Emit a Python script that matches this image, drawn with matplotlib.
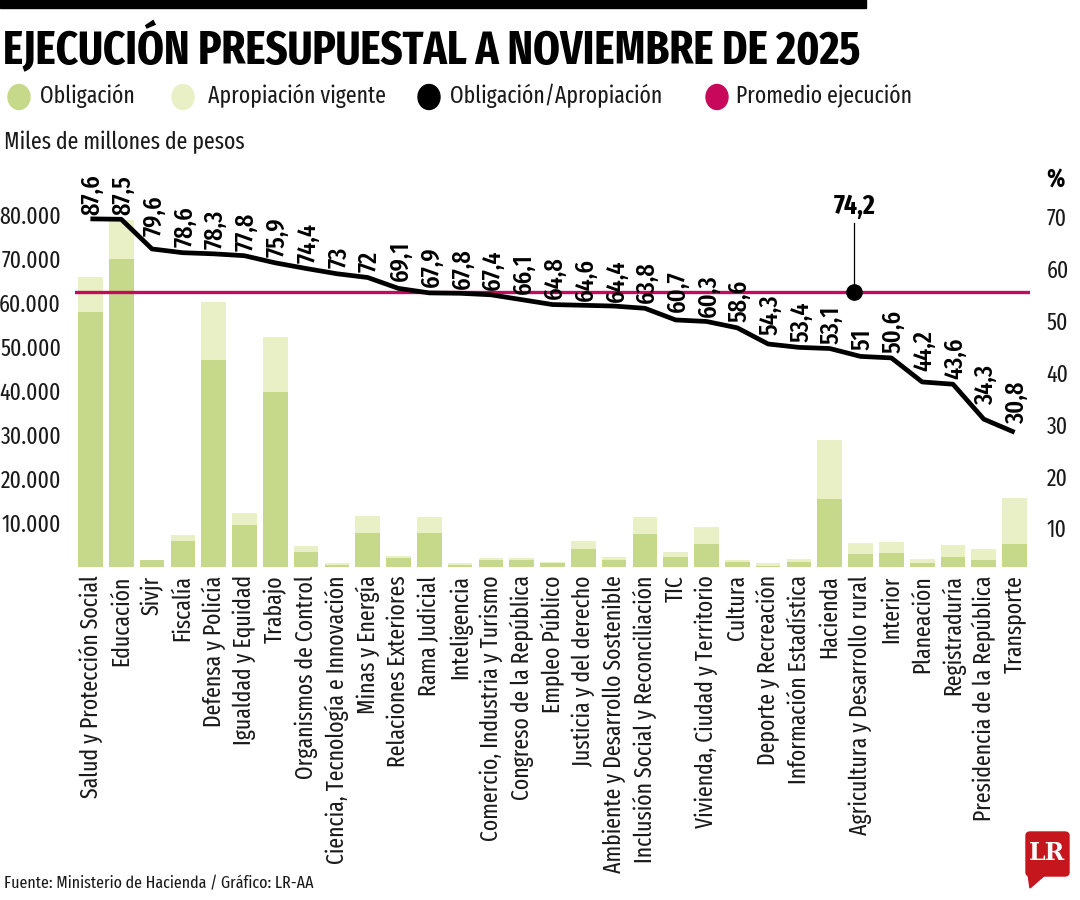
import matplotlib
matplotlib.use("Agg")
import matplotlib.pyplot as plt
from matplotlib import font_manager
from matplotlib.patches import Rectangle, Ellipse, FancyBboxPatch, Polygon
import numpy as np

available = {f.name for f in font_manager.fontManager.ttflist}
FONT = next(f for f in ["Fira Sans Extra Condensed", "Fira Sans Condensed", "PT Sans Narrow",
                        "Roboto Condensed", "Sofia Sans Extra Condensed", "DejaVu Sans"]
            if f in available)
plt.rcParams["font.family"] = [FONT, "DejaVu Sans"]

categorias = [
    "Salud y Protección Social", "Educación", "Sivjr", "Fiscalía", "Defensa y Policía",
    "Igualdad y Equidad", "Trabajo", "Organismos de Control",
    "Ciencia, Tecnología e Innovación", "Minas y Energía", "Relaciones Exteriores",
    "Rama Judicial", "Inteligencia", "Comercio, Industria y Turismo",
    "Congreso de la República", "Empleo Público", "Justicia y del derecho",
    "Ambiente y Desarrollo Sostenible", "Inclusión Social y Reconciliación", "TIC",
    "Vivienda, Ciudad y Territorio", "Cultura", "Deporte y Recreación",
    "Información Estadística", "Hacienda", "Agricultura y Desarrollo rural", "Interior",
    "Planeación", "Registraduría", "Presidencia de la República", "Transporte",
]
obligacion = [58000, 70000, 1500, 5800, 47000, 9500, 39700, 3500, 500, 7800, 2000,
              7800, 400, 1500, 1500, 1000, 4000, 1500, 7500, 2200, 5300, 1200, 300,
              1200, 15500, 3000, 3200, 1000, 2300, 1600, 5200]
apropiacion = [66000, 79000, 1700, 7300, 60300, 12300, 52300, 4800, 800, 11600, 2600,
               11400, 800, 2000, 2000, 1100, 6000, 2200, 11300, 3300, 9000, 1600, 900,
               1750, 28900, 5500, 5700, 1750, 5000, 4200, 15600]
ejecucion = [87.6, 87.5, 79.6, 78.6, 78.3, 77.8, 75.9, 74.4, 73, 72, 69.1, 67.9, 67.8,
             67.4, 66.1, 64.8, 64.6, 64.4, 63.8, 60.7, 60.3, 58.6, 54.3, 53.4, 53.1, 51,
             50.6, 44.2, 43.6, 34.3, 30.8]
promedio = 74.2
ticks_izq = [10000, 20000, 30000, 40000, 50000, 60000, 70000, 80000]
ticks_der = [10, 20, 30, 40, 50, 60, 70]

VERDE = "#c6d98a"
VERDE_CLARO = "#e9f0c6"
FUCSIA = "#c8095b"
TXT = "#1a1a1a"

W, H = 1080, 900
fig = plt.figure(figsize=(W / 100, H / 100), dpi=100)


def fx(px):
    return px / W


def fy(py):
    return 1 - py / H


# barra negra superior
fig.patches.append(Rectangle((0, fy(8)), fx(866), 8 / H, transform=fig.transFigure,
                             color="black", zorder=5))
fig.text(fx(3), fy(49), "EJECUCIÓN PRESUPUESTAL A NOVIEMBRE DE 2025", fontsize=33.5,
         fontweight="bold", va="center", ha="left", color="black")

# leyenda
leyenda = [(19, 40, "Obligación", VERDE), (183, 208, "Apropiación vigente", VERDE_CLARO),
           (429, 450, "Obligación/Apropiación", "black"),
           (717, 736, "Promedio ejecución", FUCSIA)]
for xc, xt, txt, col in leyenda:
    fig.patches.append(Ellipse((fx(xc), fy(97)), 22 / W, 25 / H, transform=fig.transFigure,
                               color=col))
    fig.text(fx(xt), fy(96), txt, fontsize=17, va="center", ha="left", color=TXT)

fig.text(fx(4), fy(142), "Miles de millones de pesos", fontsize=17, va="center",
         ha="left", color=TXT)

# ejes
left, right, base, top = 75, 1030, 567, 180
rect = [fx(left), fy(base), fx(right - left), (base - top) / H]
ax = fig.add_axes(rect)
x = np.arange(len(categorias))
ax.bar(x, apropiacion, width=0.8, color=VERDE_CLARO, zorder=1)
ax.bar(x, obligacion, width=0.8, color=VERDE, zorder=2)
ax.set_xlim(-0.5, len(categorias) - 0.5)
ax.set_ylim(0, 88000)
ax.set_yticks(ticks_izq)
ax.set_yticklabels([f"{t:,}".replace(",", ".") for t in ticks_izq], fontsize=17, color=TXT)
ax.set_xticks(x)
ax.set_xticklabels(categorias, rotation=90, fontsize=17, color=TXT, va="top", ha="center")
ax.tick_params(length=0, axis="x", pad=6)
ax.tick_params(length=0, axis="y", pad=10)
for s in ax.spines.values():
    s.set_visible(False)

# eje derecho (%)
ax_r = ax.twinx()
ax_r.set_ylim(2.5, 77.2)
ax_r.set_yticks(ticks_der)
ax_r.set_yticklabels([str(t) for t in ticks_der], fontsize=17, color=TXT)
ax_r.tick_params(length=0, pad=12)
for s in ax_r.spines.values():
    s.set_visible(False)
fig.text(fx(1055), fy(180), "%", fontsize=18, fontweight="bold", ha="center",
         va="center", color="black")

# linea promedio
ax_avg = ax.twinx()
ax_avg.set_ylim(0, 104.5)
ax_avg.axis("off")
ax_avg.axhline(promedio, color=FUCSIA, lw=2.4, zorder=3)
x_prom = 24.8
ax_avg.plot([x_prom, x_prom], [promedio, 93], color="black", lw=0.9, zorder=4)
ax_avg.plot([x_prom], [promedio], "o", color="black", ms=11, zorder=5)
ax_avg.text(x_prom, 93.8, f"{promedio}".replace(".", ","), fontsize=20, fontweight="bold",
            ha="center", va="bottom", color="black")

# linea obligacion / apropiacion
ax_l = ax.twinx()
ax_l.set_ylim(-5.05, 97.95)
ax_l.axis("off")
ax_l.plot(x, ejecucion, color="black", lw=3.4, solid_joinstyle="round",
          solid_capstyle="butt", zorder=6)
for xi, v in zip(x, ejecucion):
    # la etiqueta se apoya sobre el punto mas alto de la linea bajo ella
    y_lab = max(v, np.interp(xi - 0.3, x, ejecucion), np.interp(xi + 0.3, x, ejecucion))
    ax_l.annotate(f"{v:g}".replace(".", ","), (xi, y_lab), xytext=(1.5, 3),
                  textcoords="offset points", rotation=90, ha="center", va="bottom",
                  fontsize=19, fontweight="medium", color="black", zorder=7)

# pie
fig.text(fx(4), fy(884), "Fuente: Ministerio de Hacienda / Gráfico: LR-AA", fontsize=12.5,
         va="center", ha="left", color=TXT)

# logo LR
ROJO = "#c4161c"
fig.patches.append(FancyBboxPatch((fx(1026), fy(876)), fx(43), 44 / H,
                                  boxstyle="round,pad=0,rounding_size=0.004",
                                  transform=fig.transFigure, color=ROJO))
fig.patches.append(Polygon([(fx(1028), fy(874)), (fx(1046), fy(874)), (fx(1030), fy(888))],
                           closed=True, transform=fig.transFigure, color=ROJO))
fig.text(fx(1047.5), fy(853), "LR", fontsize=17, fontweight="bold", family="DejaVu Serif",
         color="white", ha="center", va="center")

fig.savefig("out.png", dpi=100, facecolor="white")
